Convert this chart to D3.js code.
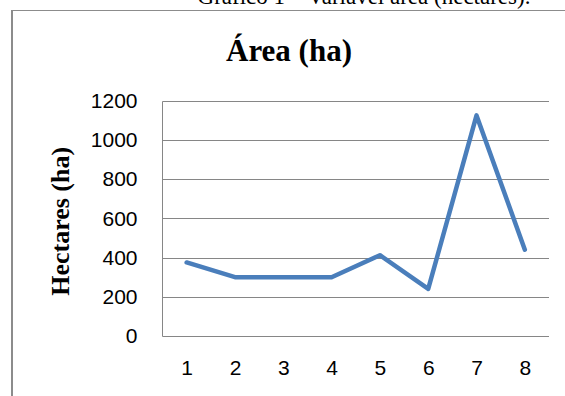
<!DOCTYPE html>
<html><head><meta charset="utf-8">
<script src="https://cdn.jsdelivr.net/npm/d3@7"></script>
<style>html,body{margin:0;padding:0;background:#fff;overflow:hidden}</style>
</head><body>
<script>
const categories = ["1","2","3","4","5","6","7","8"];
const areaValues = [375, 300, 300, 300, 412, 240, 1125, 440];
const yTicks = [0, 200, 400, 600, 800, 1000, 1200];
const chartTitle = "Área (ha)";
const yTitle = "Hectares (ha)";
const caption = "Gráfico 1 – Variável área (hectares).";

const W = 565, H = 396;
const svg = d3.select("body").append("svg").attr("width", W).attr("height", H);

// caption cut at top (as in the reference)
svg.append("text").attr("x", 364).attr("y", 4).attr("text-anchor", "middle")
  .attr("font-family", "Liberation Serif").attr("font-size", 23).attr("fill", "#000")
  .text(caption);

// outer frame
svg.append("line").attr("x1", 11).attr("x2", W + 5).attr("y1", 10.5).attr("y2", 10.5)
  .attr("stroke", "#8c8c8c").attr("stroke-width", 1);
svg.append("line").attr("x1", 12).attr("x2", 12).attr("y1", 10).attr("y2", H + 5)
  .attr("stroke", "#8c8c8c").attr("stroke-width", 2);

const plot = {left: 162.5, right: 549, top: 100.7, bottom: 336};
const x = d3.scalePoint().domain(categories).range([plot.left, plot.right]).padding(0.5);
const y = d3.scaleLinear().domain([0, 1200]).range([plot.bottom, plot.top]);

// gridlines
svg.append("g").selectAll("line").data(yTicks).join("line")
  .attr("x1", plot.left).attr("x2", plot.right)
  .attr("y1", d => Math.round(y(d)) + 0.5).attr("y2", d => Math.round(y(d)) + 0.5)
  .attr("stroke", "#868686").attr("stroke-width", 1);
svg.append("line").attr("x1", plot.left).attr("x2", plot.left)
  .attr("y1", Math.round(y(1200)) + 0.5).attr("y2", Math.round(y(0)) + 0.5)
  .attr("stroke", "#868686").attr("stroke-width", 1);

// y axis labels
const yAxis = d3.axisLeft(y).tickValues(yTicks).tickFormat(d3.format("d")).tickSize(0).tickPadding(25);
const gy = svg.append("g").attr("transform", `translate(${plot.left},0)`).call(yAxis);
gy.select(".domain").remove();
gy.selectAll("text").attr("font-family", "Liberation Sans").attr("font-size", 21).attr("fill", "#000");

// x axis labels
const xAxis = d3.axisBottom(x).tickSize(0).tickPadding(24);
const gx = svg.append("g").attr("transform", `translate(0,${plot.bottom})`).call(xAxis);
gx.select(".domain").remove();
gx.selectAll("text").attr("font-family", "Liberation Sans").attr("font-size", 21).attr("fill", "#000");

// line
const line = d3.line().x((d, i) => x(categories[i])).y(d => y(d));
svg.append("path").datum(areaValues).attr("d", line)
  .attr("fill", "none").attr("stroke", "#4a7ebb").attr("stroke-width", 4.5)
  .attr("stroke-linejoin", "round").attr("stroke-linecap", "round");

// title
svg.append("text").attr("x", 289).attr("y", 61).attr("text-anchor", "middle")
  .attr("font-family", "Liberation Serif").attr("font-weight", "bold").attr("font-size", 31)
  .attr("fill", "#000").text(chartTitle);

// y title
svg.append("text").attr("transform", `translate(69,${(plot.top + plot.bottom) / 2 + 3}) rotate(-90)`)
  .attr("text-anchor", "middle")
  .attr("font-family", "Liberation Serif").attr("font-weight", "bold").attr("font-size", 26)
  .attr("fill", "#000").text(yTitle);
</script>
</body></html>
